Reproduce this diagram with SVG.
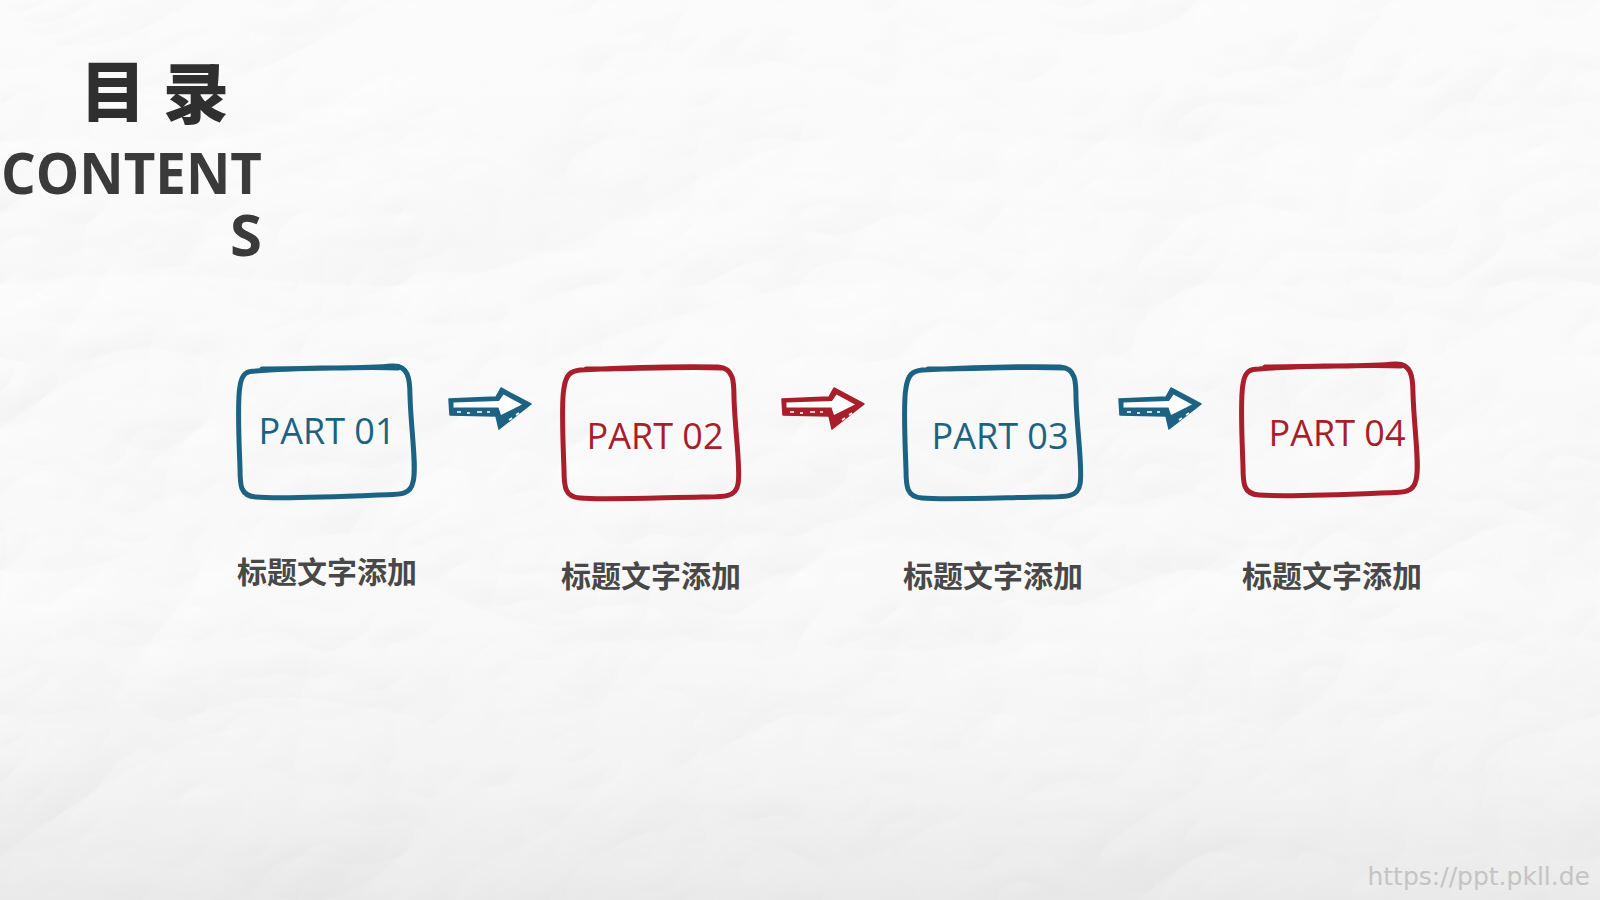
<svg xmlns="http://www.w3.org/2000/svg" xmlns:xlink="http://www.w3.org/1999/xlink" width="1600" height="900" viewBox="0 0 1600 900">
<defs>
<style>
.title{font-family:"Noto Sans CJK SC",sans-serif;font-weight:900;font-size:66px;fill:#2f2f2f}
.en{font-family:"Open Sans","Liberation Sans",sans-serif;font-weight:700;font-size:58px;fill:#3a3a3a}
.part{font-family:"Open Sans","Liberation Sans",sans-serif;font-size:36px}
.lbl{font-family:"Noto Sans CJK SC",sans-serif;font-weight:700;font-size:30px;fill:#484848}
.blue{stroke:#1c6383;fill:none;stroke-width:5;stroke-linejoin:round;stroke-linecap:round}
.red{stroke:#a81e2b;fill:none;stroke-width:5;stroke-linejoin:round;stroke-linecap:round}
.tb{fill:#1c6383}
.tr{fill:#a81e2b}
.wm{font-family:"DejaVu Sans","Liberation Sans",sans-serif;font-size:25px;fill:#c4c4c4}
</style>
<filter id="paper" x="0" y="0" width="100%" height="100%">
<feTurbulence type="turbulence" baseFrequency="0.0025 0.0035" numOctaves="4" seed="23" result="n"/>
<feDiffuseLighting in="n" surfaceScale="7" lighting-color="#ffffff" diffuseConstant="1.1" result="l">
<feDistantLight azimuth="235" elevation="55"/>
</feDiffuseLighting>
<feColorMatrix type="matrix" values="0.4 0 0 0 0.6  0 0.4 0 0 0.6  0 0.4 0 0 0.6  0 0 0 0 1"/>
</filter>
<linearGradient id="shade" x1="0" y1="0" x2="0" y2="1">
<stop offset="0" stop-color="#ffffff" stop-opacity="0.3"/>
<stop offset="0.6" stop-color="#ffffff" stop-opacity="0"/>
<stop offset="1" stop-color="#bbbbbb" stop-opacity="0.25"/>
</linearGradient>
<path id="boxA" d="M 256 371 C 300 367, 360 369, 392 366 C 408 365, 410 378, 410 396 C 411 430, 417 468, 413 482 C 410 497, 396 494, 378 495 C 330 497, 280 499, 256 497 C 240 496, 240 485, 240 468 C 239 440, 237 402, 240 386 C 242 373, 247 371, 256 371 Z M 262 369 C 310 369, 370 366, 398 368"/>
<path id="boxB" d="M 580 370 C 620 368, 680 366, 718 367 C 734 368, 734 382, 734 398 C 735 432, 741 470, 738 484 C 736 498, 722 497, 702 497 C 650 498, 600 500, 580 498 C 565 497, 564 487, 564 470 C 563 440, 561 402, 564 388 C 566 374, 571 371, 580 370 Z M 586 369 C 630 369, 690 366, 722 368"/>
</defs>

<rect width="1600" height="900" fill="#eeeeee"/>
<rect width="1600" height="900" filter="url(#paper)" opacity="0.85"/>
<rect width="1600" height="900" fill="url(#shade)"/>

<g id="title">
<text class="title" x="80" y="116">目</text>
<text class="title" x="163" y="118">录</text>
<text class="en" x="1" y="194" textLength="261" lengthAdjust="spacingAndGlyphs">CONTENT</text>
<text class="en" x="262" y="256" text-anchor="end">S</text>
</g>

<g id="node1">
<use xlink:href="#boxA" class="blue"/>
<text class="part tb" x="327" y="444" text-anchor="middle">PART 01</text>
<text class="lbl" x="327" y="583" text-anchor="middle">标题文字添加</text>
</g>
<g id="node2">
<use xlink:href="#boxB" class="red"/>
<text class="part tr" x="655" y="449" text-anchor="middle">PART 02</text>
<text class="lbl" x="651" y="587" text-anchor="middle">标题文字添加</text>
</g>
<g id="node3">
<use xlink:href="#boxB" class="blue" transform="translate(342,0)"/>
<text class="part tb" x="1000" y="449" text-anchor="middle">PART 03</text>
<text class="lbl" x="993" y="587" text-anchor="middle">标题文字添加</text>
</g>
<g id="node4">
<use xlink:href="#boxA" class="red" transform="translate(1003,-2)"/>
<text class="part tr" x="1337" y="446" text-anchor="middle">PART 04</text>
<text class="lbl" x="1332" y="587" text-anchor="middle">标题文字添加</text>
</g>

<g id="connectors">
<g transform="translate(449,388)">
<polygon points="0,11 47,9 52,0 82,16 50,41 47,28 1,27" fill="#1c6383" stroke="#1c6383" stroke-width="1.5" stroke-linejoin="round"/>
<polygon points="4.5,14.5 50,13 54.5,6.5 73,16.5 52,27 49.5,19.5 4.5,19.5" fill="#ffffff"/>
<path d="M8 24 h4 M18 25 h3 M28 24 h5 M38 24 h3 M60 32 l3 -2 M67 27 l3 -2" stroke="#ffffff" stroke-width="1.6"/>
</g>
<g transform="translate(782,388)">
<polygon points="0,11 47,9 52,0 82,16 50,41 47,28 1,27" fill="#a81e2b" stroke="#a81e2b" stroke-width="1.5" stroke-linejoin="round"/>
<polygon points="4.5,14.5 50,13 54.5,6.5 73,16.5 52,27 49.5,19.5 4.5,19.5" fill="#ffffff"/>
<path d="M8 24 h4 M18 25 h3 M28 24 h5 M38 24 h3 M60 32 l3 -2 M67 27 l3 -2" stroke="#ffffff" stroke-width="1.6"/>
</g>
<g transform="translate(1119,388)">
<polygon points="0,11 47,9 52,0 82,16 50,41 47,28 1,27" fill="#1c6383" stroke="#1c6383" stroke-width="1.5" stroke-linejoin="round"/>
<polygon points="4.5,14.5 50,13 54.5,6.5 73,16.5 52,27 49.5,19.5 4.5,19.5" fill="#ffffff"/>
<path d="M8 24 h4 M18 25 h3 M28 24 h5 M38 24 h3 M60 32 l3 -2 M67 27 l3 -2" stroke="#ffffff" stroke-width="1.6"/>
</g>
</g>

<text class="wm" x="1590" y="885" text-anchor="end">https://ppt.pkll.de</text>
</svg>
